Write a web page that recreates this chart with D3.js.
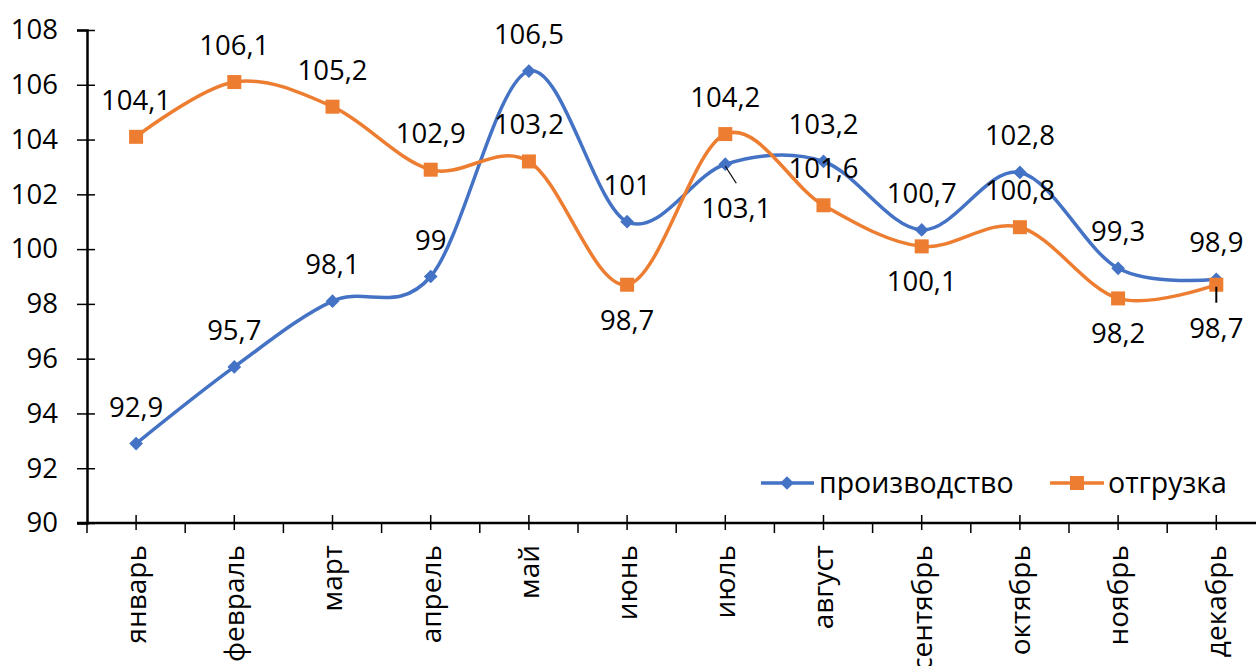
<!DOCTYPE html>
<html>
<head>
<meta charset="utf-8">
<script src="https://d3js.org/d3.v7.min.js"></script>
<style>
  body { margin: 0; background: #fff; }
  text { font-family: "Open Sans", "Noto Sans", sans-serif; fill: #000; }
</style>
</head>
<body>
<div id="chart"></div>
<script>
  // data
  const months = ["январь", "февраль", "март", "апрель", "май", "июнь",
    "июль", "август", "сентябрь", "октябрь", "ноябрь", "декабрь"];
  const production = [92.9, 95.7, 98.1, 99, 106.5, 101, 103.1, 103.2, 100.7, 102.8, 99.3, 98.9];
  const shipment = [104.1, 106.1, 105.2, 102.9, 103.2, 98.7, 104.2, 101.6, 100.1, 100.8, 98.2, 98.7];
  const yTicks = [90, 92, 94, 96, 98, 100, 102, 104, 106, 108];
  // where each data label sits
  const prodLabelPos = ["above", "above", "above", "above", "above", "above",
    "leader", "above", "above", "above", "above", "above"];
  const shipLabelPos = ["above", "above", "above", "above", "above", "below",
    "above", "above", "below", "above", "below", "leaderBelow"];

  const width = 1256, height = 666;
  const plotLeft = 87, plotBottom = 523, plotTop = 30, step = 98.2;

  const svg = d3.select("#chart").append("svg")
    .attr("width", width)
    .attr("height", height);

  const x = d3.scaleBand()
    .domain(months)
    .range([plotLeft, plotLeft + step * months.length])
    .padding(0);
  const y = d3.scaleLinear()
    .domain([90, 108])
    .range([plotBottom, plotTop]);
  const cx = m => x(m) + x.bandwidth() / 2;

  // y axis
  const yAxis = svg.append("g")
    .attr("transform", `translate(${plotLeft},0)`)
    .call(d3.axisLeft(y).tickValues(yTicks).tickFormat(d3.format("d")).tickSize(10).tickPadding(19));
  yAxis.select(".domain").attr("stroke", "#000").attr("stroke-width", 2.5);
  yAxis.selectAll(".tick line").attr("x2", 8).attr("x1", -10).attr("stroke-width", 1.5);
  yAxis.selectAll(".tick text").attr("font-size", 27.5).attr("font-family", "Open Sans");

  // x axis: line + ticks at boundaries (down) and centers (crossing)
  const xg = svg.append("g");
  xg.append("line")
    .attr("x1", plotLeft - 10).attr("x2", width)
    .attr("y1", plotBottom).attr("y2", plotBottom)
    .attr("stroke", "#000").attr("stroke-width", 2.5);
  const bounds = months.map(m => x(m)).concat([x.range()[1]]);
  xg.selectAll("line.b").data(bounds).join("line")
    .attr("class", "b")
    .attr("x1", d => d).attr("x2", d => d)
    .attr("y1", plotBottom).attr("y2", plotBottom + 10)
    .attr("stroke", "#000").attr("stroke-width", 1.5);
  xg.selectAll("line.c").data(months).join("line")
    .attr("class", "c")
    .attr("x1", d => cx(d)).attr("x2", d => cx(d))
    .attr("y1", plotBottom - 8).attr("y2", plotBottom + 7)
    .attr("stroke", "#000").attr("stroke-width", 1.5);
  xg.selectAll("text").data(months).join("text")
    .attr("transform", d => `translate(${cx(d)},${plotBottom + 22}) rotate(-90)`)
    .attr("text-anchor", "end")
    .attr("dy", "0.35em")
    .attr("font-size", 28)
    .text(d => d);

  const line = d3.line()
    .x((d, i) => cx(months[i]))
    .y(d => y(d))
    .curve(d3.curveCardinal.tension(0));

  const blue = "#4472C4", orange = "#ED7D31";

  svg.append("path").datum(production)
    .attr("fill", "none").attr("stroke", blue).attr("stroke-width", 3.5)
    .attr("d", line);
  svg.append("path").datum(shipment)
    .attr("fill", "none").attr("stroke", orange).attr("stroke-width", 3.5)
    .attr("d", line);

  const diamond = d3.symbol().type(d3.symbolDiamond2).size(120);
  svg.append("g").selectAll("path").data(production).join("path")
    .attr("transform", (d, i) => `translate(${cx(months[i])},${y(d)})`)
    .attr("d", diamond)
    .attr("fill", blue);
  svg.append("g").selectAll("rect").data(shipment).join("rect")
    .attr("x", (d, i) => cx(months[i]) - 7)
    .attr("y", d => y(d) - 7)
    .attr("width", 14).attr("height", 14)
    .attr("fill", orange);

  const fmt = v => String(v).replace(".", ",");

  function labels(values, pos) {
    const g = svg.append("g");
    values.forEach((v, i) => {
      const px = cx(months[i]), py = y(v);
      let tx = px, ty = py - 27;
      if (pos[i] === "below") ty = py + 45;
      if (pos[i] === "leaderBelow") {
        ty = py + 53;
        g.append("line").attr("x1", px).attr("x2", px)
          .attr("y1", py + 2).attr("y2", py + 18)
          .attr("stroke", "#000").attr("stroke-width", 2);
      }
      if (pos[i] === "leader") {
        tx = px + 11; ty = py + 54;
        g.append("line").attr("x1", px).attr("y1", py + 2)
          .attr("x2", px + 11).attr("y2", py + 19)
          .attr("stroke", "#000").attr("stroke-width", 1.2);
      }
      g.append("text")
        .attr("x", tx).attr("y", ty)
        .attr("text-anchor", "middle")
        .attr("font-size", 27.5)
        .text(fmt(v));
    });
  }
  labels(production, prodLabelPos);
  labels(shipment, shipLabelPos);

  // legend
  const lg = svg.append("g");
  const ly = 483;
  lg.append("line").attr("x1", 761).attr("x2", 814).attr("y1", ly).attr("y2", ly)
    .attr("stroke", blue).attr("stroke-width", 3.5);
  lg.append("path").attr("transform", `translate(${787},${ly})`).attr("d", diamond).attr("fill", blue);
  lg.append("text").attr("x", 819).attr("y", ly).attr("dy", "0.35em").attr("font-size", 28.5).text("производство");
  lg.append("line").attr("x1", 1050).attr("x2", 1104).attr("y1", ly).attr("y2", ly)
    .attr("stroke", orange).attr("stroke-width", 3.5);
  lg.append("rect").attr("x", 1070).attr("y", ly - 7).attr("width", 14).attr("height", 14).attr("fill", orange);
  lg.append("text").attr("x", 1108).attr("y", ly).attr("dy", "0.35em").attr("font-size", 28.5).text("отгрузка");
</script>
</body>
</html>
